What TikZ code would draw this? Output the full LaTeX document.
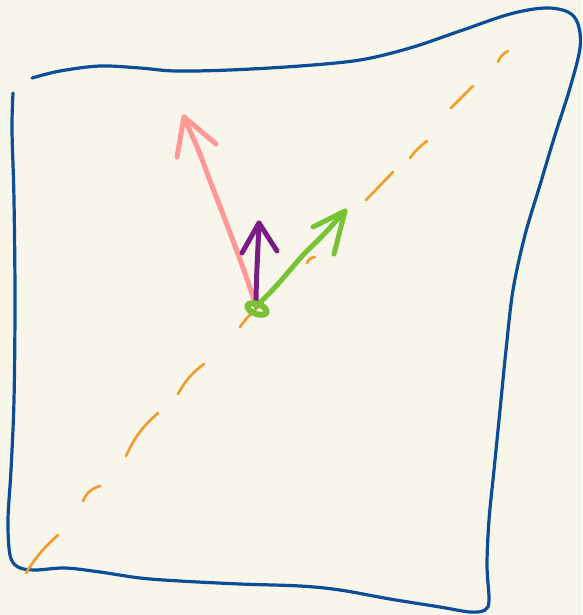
\documentclass[tikz,border=0pt]{standalone}
\usetikzlibrary{calc}
\definecolor{bgc}{HTML}{F8F6EA}
\definecolor{bluec}{HTML}{0D4C97}
\definecolor{orangec}{HTML}{F39A2B}
\definecolor{pinkc}{HTML}{FF9797}
\definecolor{purplec}{HTML}{7A1C86}
\definecolor{greenc}{HTML}{78C236}
\begin{document}
\begin{tikzpicture}[x=1pt,y=-1pt,
  outline/.style={draw=bluec,line width=3.2pt,line cap=round,line join=round},
  dashseg/.style={draw=orangec,line width=2.6pt,line cap=round},
  vecpink/.style={draw=pinkc,line width=5pt,line cap=round,line join=round},
  vecpurple/.style={draw=purplec,line width=5pt,line cap=round,line join=round},
  vecgreen/.style={draw=greenc,line width=5pt,line cap=round,line join=round}]
\fill[bgc] (0,0) rectangle (582,615);
\useasboundingbox (0,0) rectangle (582,615);
% outline
\draw[outline] plot[smooth,tension=0.55] coordinates {
 (32,78) (60,71) (100,66) (140,68) (175,71) (230,70) (300,66) (360,60) (410,48)
 (460,31) (510,14) (545,8) (568,12) (578,24) (580,48) (570,88) (555,135) (540,185)
 (525,235) (513,290) (506,350) (500,410) (494,470) (489,520) (487,565) (489,600)
 (485,610) (470,612) (440,607) (390,599) (340,590) (300,586) (240,584) (180,581)
 (140,578) (100,572) (65,568) (35,570) (18,567) (10,555) (8,520) (11,470) (14,400)
 (15,300) (14,200) (12,130) (13,93)};
% dashed diagonal
\draw[dashseg] (26,573) to[bend left=8] (58,535);
\draw[dashseg] (83,501) to[bend left=25] (100,486);
\draw[dashseg] (126,456) to[bend left=12] (158,413);
\draw[dashseg] (178,394) to[bend left=12] (204,364);
\draw[dashseg] (240,327) to[bend left=8] (263,303);
\draw[dashseg] (307,263) to[bend left=30] (315,257);
\draw[dashseg] (366,200) -- (393,172);
\draw[dashseg] (410,158) to[bend left=8] (427,141);
\draw[dashseg] (451,108) -- (473,86);
\draw[dashseg] (498,62) to[bend left=20] (508,51);
% origin
\coordinate (o) at (256,306);
\coordinate (pt) at (184,117);
\coordinate (ut) at (259,223);
\coordinate (gt) at (345,211);
% pink arrow
\draw[vecpink] (o) .. controls (238,250) and (215,195) .. (203,162) .. controls (195,140) and (188,128) .. (pt);
\draw[vecpink] (177,157) -- (pt) -- (216,144);
% purple arrow
\draw[vecpurple] (o) .. controls (256,280) and (258,250) .. (ut);
\draw[vecpurple] (242,253) -- (ut) -- (277,251);
% green arrow
\draw[vecgreen] (o) .. controls (280,285) and (295,262) .. (310,248) .. controls (325,234) and (335,222) .. (gt);
\draw[vecgreen] (313,227) -- (gt) -- (334,254);
\draw[greenc,line width=6pt] (257,309) ellipse[x radius=10pt,y radius=5pt,rotate=-20];
\end{tikzpicture}
\end{document}
